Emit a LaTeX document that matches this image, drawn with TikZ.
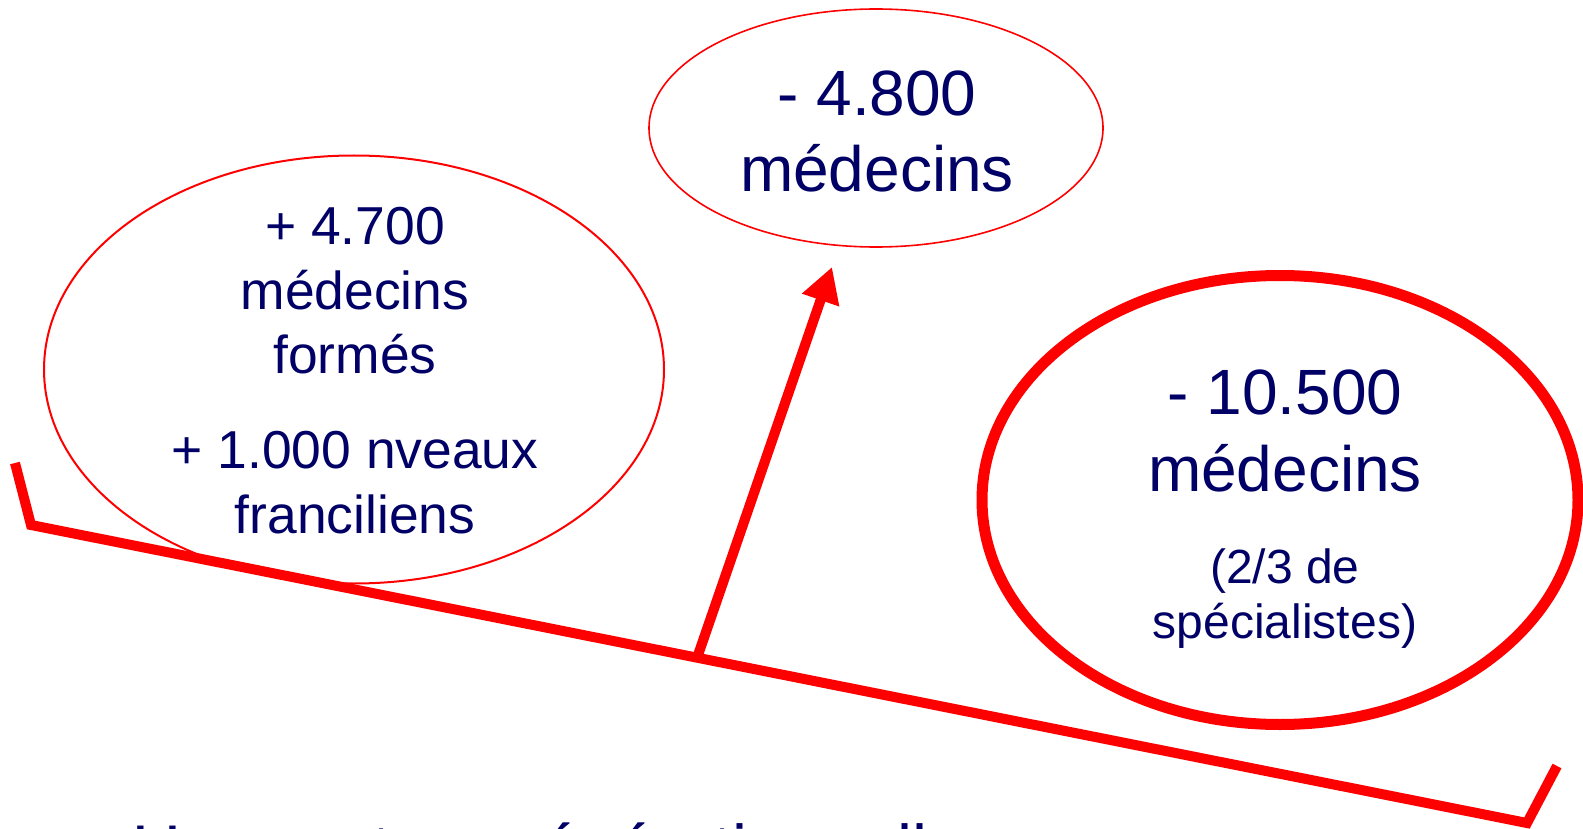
\documentclass[tikz,border=0pt]{standalone}
\usepackage{fontspec}
\setmainfont{Liberation Sans}
\usetikzlibrary{arrows.meta}
\definecolor{navy}{RGB}{0,0,102}
\definecolor{pred}{RGB}{255,0,0}
\begin{document}
\begin{tikzpicture}[x=1pt,y=-1pt,
  txt/.style={text=navy, inner sep=0pt, anchor=base},
  big/.style={txt, font=\fontsize{64}{70}\selectfont},
  mid/.style={txt, font=\fontsize{53.4}{60}\selectfont},
  small/.style={txt, font=\fontsize{48}{56}\selectfont},
  thinell/.style={draw=pred, line width=2pt},
  thickell/.style={draw=pred, line width=11pt},
  bar/.style={draw=pred, line width=10pt, line join=miter},
  arrowline/.style={draw=pred, line width=10pt, -{Triangle[length=35pt,width=37pt]}},
]
\clip (0,0) rectangle (1583,829);
\fill[white] (0,0) rectangle (1583,829);

% ellipses
\coordinate (lc) at (354,369.5);
\coordinate (tc) at (876,128);
\coordinate (rc) at (1280,500);
\draw[thinell] (lc) ellipse [x radius=310, y radius=214];
\draw[thinell, line width=1.6pt] (tc) ellipse [x radius=227, y radius=119];
\draw[thickell] (rc) ellipse [x radius=298, y radius=224.5];

% bar
\coordinate (b1) at (15,463);
\coordinate (b2) at (31,525);
\coordinate (b3) at (1527,823);
\coordinate (b4) at (1557,766);
\draw[bar] (b1) -- (b2) -- (b3) -- (b4);

% arrow
\coordinate (abase) at (697,658);
\coordinate (atip) at (832,267);
\draw[arrowline] (abase) -- (atip);

% left ellipse text
\node[mid] (l1) at (355,245) {+ 4.700};
\node[mid] (l2) at (355,309) {médecins};
\node[mid] (l3) at (355,373) {formés};
\node[mid] (l4) at (355,468) {+ 1.000 nveaux};
\node[mid] (l5) at (355,533) {franciliens};

% top ellipse text
\node[big] (t1) at (877,116) {- 4.800};
\node[big] (t2) at (877,192) {médecins};

% right ellipse text
\node[big] (r1) at (1285,414) {- 10.500};
\node[big] (r2) at (1285,491) {médecins};
\node[small] (r3) at (1285,583) {(2/3 de};
\node[small] (r4) at (1285,638) {spécialistes)};

% bottom text (cut off by the lower edge)
\node[txt, anchor=base west, font=\fontsize{67.5}{72}\selectfont] (bottom) at (132,872) {Une perte « générationnelle »};
\end{tikzpicture}
\end{document}
